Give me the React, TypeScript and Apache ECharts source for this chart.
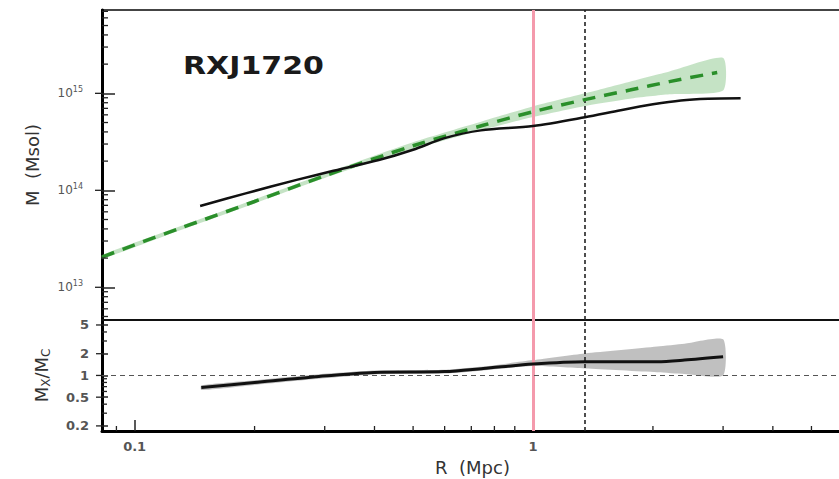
import React, { useEffect, useRef } from 'react';
import * as echarts from 'echarts';

const FONT = 'DejaVu Sans';

// axis ranges
const xMin = 0.0828;
const xMax = 6.0;
const topMin = 4.6e12;
const topMax = 7.23e15;
const botMin = 0.17;
const botMax = 5.86;

// tick values / labels
const xLabelTicks = [0.1, 1];
const xLabelText = ['0.1', '1'];
const xMinorTicks = [0.09, 0.2, 0.3, 0.4, 0.5, 0.6, 0.7, 0.8, 0.9, 2, 3, 4, 5];
const topLabelTicks = [1e13, 1e14, 1e15];
const topLabelExp = ['13', '14', '15'];
const topMinorTicks = [
  5e12, 6e12, 7e12, 8e12, 9e12,
  2e13, 3e13, 4e13, 5e13, 6e13, 7e13, 8e13, 9e13,
  2e14, 3e14, 4e14, 5e14, 6e14, 7e14, 8e14, 9e14,
  2e15, 3e15, 4e15, 5e15, 6e15, 7e15,
];
const ratioLabelTicks = [0.2, 0.5, 1, 2, 5];
const ratioLabelText = ['0.2', '0.5', '1', '2', '5'];
const ratioMinorTicks = [0.3, 0.4, 0.6, 0.7, 0.8, 0.9, 3, 4];

// reference radii
const rRed = 1.0;
const rDashed = 1.35;

// green dashed model profile
const greenR = [0.0828, 0.1, 0.13, 0.2, 0.3, 0.5, 0.75, 1.0, 1.35, 1.75, 2.2, 2.9];
const greenM = [2.05e13, 2.74e13, 4.06e13, 7.67e13, 1.41e14, 2.88e14, 4.68e14, 6.46e14, 8.61e14, 1.08e15, 1.32e15, 1.64e15];

// green uncertainty band
const bandR = [0.0828, 0.13, 0.2, 0.3, 0.5, 0.75, 1.0, 1.35, 1.75, 2.2, 3.0];
const bandLo = [1.96e13, 3.87e13, 7.33e13, 1.34e14, 2.66e14, 4.22e14, 5.69e14, 7.41e14, 8.81e14, 9.77e14, 1.07e15];
const bandHi = [2.15e13, 4.25e13, 8.04e13, 1.49e14, 3.13e14, 5.19e14, 7.33e14, 1.0e15, 1.32e15, 1.68e15, 2.32e15];

// black measured profile
const blackR = [0.146, 0.19, 0.255, 0.31, 0.41, 0.5, 0.6, 0.74, 1.0, 1.35, 1.66, 2.0, 2.35, 2.75, 3.32];
const blackM = [6.9e13, 9.3e13, 1.28e14, 1.56e14, 2.05e14, 2.62e14, 3.45e14, 4.15e14, 4.6e14, 5.66e14, 6.7e14, 7.7e14, 8.45e14, 8.8e14, 8.9e14];

// ratio panel
const ratioR = [0.147, 0.2, 0.29, 0.4, 0.6, 0.75, 1.0, 1.35, 2.05, 2.4, 3.0];
const ratioV = [0.68, 0.8, 0.97, 1.1, 1.13, 1.25, 1.44, 1.55, 1.55, 1.63, 1.81];
const ratioLo = [0.63, 0.74, 0.9, 1.03, 1.06, 1.17, 1.35, 1.25, 1.11, 1.05, 1.0];
const ratioHi = [0.73, 0.86, 1.04, 1.17, 1.2, 1.33, 1.63, 2.02, 2.52, 2.75, 3.16];

const sameVal = (a: number, b: number) => Math.abs(Math.log10(a) - Math.log10(b)) < 1e-6;

function bandSeries(xIdx: number, yIdx: number, R: number[], lo: number[], hi: number[], color: string) {
  return {
    type: 'custom',
    xAxisIndex: xIdx,
    yAxisIndex: yIdx,
    silent: true,
    z: 1,
    data: R.map((r, i) => [r, lo[i], hi[i]]),
    encode: { x: 0, y: [1, 2] },
    renderItem: (params: any, api: any) => {
      if (params.dataIndex !== 0) return null;
      const upper = R.map((r, i) => api.coord([r, hi[i]]));
      const lower = R.map((r, i) => api.coord([r, lo[i]])).reverse();
      return {
        type: 'polygon',
        shape: { points: upper.concat(lower), smooth: 0.2 },
        style: { fill: color },
      };
    },
  };
}

// y-axis tick marks (minor ticks and outward stubs) as thin rects through the axis scale
function yTickSeries(xIdx: number, yIdx: number, values: number[], len: number) {
  return {
    type: 'custom',
    xAxisIndex: xIdx,
    yAxisIndex: yIdx,
    silent: true,
    clip: false,
    z: 9,
    data: values.map((v) => [1, v]),
    encode: { x: 0, y: 1 },
    renderItem: (params: any, api: any) => {
      const py = api.coord([1, api.value(1)])[1];
      const x0 = params.coordSys.x;
      const left = len >= 0 ? x0 : x0 + len;
      return {
        type: 'rect',
        shape: { x: left, y: py - 0.65, width: Math.abs(len), height: 1.3 },
        style: { fill: '#222' },
      };
    },
  };
}

// x-axis minor tick marks
function xTickSeries(xIdx: number, yIdx: number, values: number[], anchor: number, len: number) {
  return {
    type: 'custom',
    xAxisIndex: xIdx,
    yAxisIndex: yIdx,
    silent: true,
    clip: false,
    z: 9,
    data: values.map((v) => [v, anchor]),
    encode: { x: 0, y: 1 },
    renderItem: (params: any, api: any) => {
      const p = api.coord([api.value(0), api.value(1)]);
      return {
        type: 'line',
        shape: { x1: p[0], y1: p[1], x2: p[0], y2: p[1] - len },
        style: { stroke: '#222', lineWidth: 1.3 },
      };
    },
  };
}

function markerSeries(xIdx: number, yIdx: number, withHorizontal: boolean) {
  const data: any[] = [
    { xAxis: rRed, lineStyle: { color: '#f49aac', width: 3, type: 'solid' } },
    { xAxis: rDashed, lineStyle: { color: '#222', width: 1.6, type: [4, 3] } },
  ];
  if (withHorizontal) data.push({ yAxis: 1, lineStyle: { color: '#555', width: 1.2, type: [5, 4] } });
  return {
    type: 'line',
    xAxisIndex: xIdx,
    yAxisIndex: yIdx,
    data: [],
    z: 3,
    markLine: {
      silent: true,
      symbol: ['none', 'none'],
      label: { show: false },
      animation: false,
      data,
    },
  };
}

export default function App() {
  const ref = useRef<HTMLDivElement>(null);

  useEffect(() => {
    document.body.style.margin = '0';
    if (!ref.current) return;
    const chart = echarts.init(ref.current, undefined, { renderer: 'svg' });

    const xBase0 = { gridIndex: 0, type: 'log', logBase: 10, min: xMin, max: xMax };
    const xBase1 = { gridIndex: 1, type: 'log', logBase: 10, min: xMin, max: xMax };
    const yBase0 = { gridIndex: 0, type: 'log', logBase: 10, min: topMin, max: topMax, position: 'left' };
    const yBase1 = { gridIndex: 1, type: 'log', logBase: 10, min: botMin, max: botMax, position: 'left' };

    const option: any = {
      animation: false,
      backgroundColor: '#ffffff',
      grid: [
        { left: 102, top: 10, width: 741, height: 310, outerBoundsMode: 'none', containLabel: false, show: true, borderColor: '#444', borderWidth: 2, backgroundColor: 'transparent' },
        { left: 102, top: 320, width: 741, height: 111, outerBoundsMode: 'none', containLabel: false, show: true, borderColor: '#111', borderWidth: 2, backgroundColor: 'transparent' },
      ],
      graphic: [
        {
          type: 'text',
          x: 183,
          y: 65,
          scaleX: 1.2,
          style: {
            text: 'RXJ1720',
            fontFamily: FONT,
            fontWeight: 'bold',
            fontSize: 25,
            fill: '#1a1a1a',
            verticalAlign: 'middle',
            align: 'left',
          },
        },
      ],
      xAxis: [
        {
          ...xBase0,
          axisLine: { show: true, onZero: false, lineStyle: { color: '#111', width: 2 } },
          axisTick: { show: false },
          axisLabel: { show: false },
          splitLine: { show: false },
        },
        {
          ...xBase1,
          name: 'R  (Mpc)',
          nameLocation: 'middle',
          nameGap: 27,
          nameTextStyle: { fontFamily: FONT, fontSize: 18, color: '#333' },
          axisLine: { show: true, onZero: false, lineStyle: { color: '#000', width: 3 } },
          axisTick: { show: true, inside: true, length: 11, customValues: xLabelTicks, lineStyle: { color: '#222', width: 1.5 } },
          axisLabel: {
            customValues: xLabelTicks,
            margin: 9,
            fontFamily: FONT,
            fontWeight: 'bold',
            fontSize: 13,
            color: '#555',
            formatter: (v: number) => {
              const i = xLabelTicks.findIndex((t) => sameVal(t, v));
              return i >= 0 ? xLabelText[i] : '';
            },
          },
          splitLine: { show: false },
        },
      ],
      yAxis: [
        {
          ...yBase0,
          name: 'M  (Msol)',
          nameLocation: 'middle',
          nameRotate: 90,
          nameGap: 61,
          nameTextStyle: { fontFamily: FONT, fontSize: 18, color: '#333' },
          axisLine: { show: true, onZero: false, lineStyle: { color: '#000', width: 3 } },
          axisTick: { show: true, inside: true, length: 13, customValues: topLabelTicks, lineStyle: { color: '#222', width: 1.5 } },
          axisLabel: {
            customValues: topLabelTicks,
            margin: 19,
            color: '#555',
            formatter: (v: number) => {
              const i = topLabelTicks.findIndex((t) => sameVal(t, v));
              return i >= 0 ? `{b|10}{s|${topLabelExp[i]}}` : '';
            },
            rich: {
              b: { fontFamily: FONT, fontSize: 12, lineHeight: 16, color: '#555' },
              s: { fontFamily: FONT, fontSize: 8, lineHeight: 8, verticalAlign: 'top', color: '#555' },
            },
          },
          splitLine: { show: false },
        },
        {
          ...yBase1,
          name: '{m|M}{s|X}{m|/M}{s|C}',
          nameLocation: 'middle',
          nameRotate: 90,
          nameGap: 50,
          nameTextStyle: {
            color: '#333',
            rich: {
              m: { fontFamily: FONT, fontSize: 18, lineHeight: 22, color: '#333' },
              s: { fontFamily: FONT, fontSize: 12, lineHeight: 12, verticalAlign: 'bottom', color: '#333' },
            },
          },
          axisLine: { show: true, onZero: false, lineStyle: { color: '#000', width: 3 } },
          axisTick: { show: true, inside: true, length: 6, customValues: ratioLabelTicks, lineStyle: { color: '#222', width: 1.5 } },
          axisLabel: {
            customValues: ratioLabelTicks,
            margin: 13,
            fontFamily: FONT,
            fontWeight: 'bold',
            fontSize: 13,
            color: '#555',
            formatter: (v: number) => {
              const i = ratioLabelTicks.findIndex((t) => sameVal(t, v));
              return i >= 0 ? ratioLabelText[i] : '';
            },
          },
          splitLine: { show: false },
        },
      ],
      series: [
        markerSeries(0, 0, false),
        bandSeries(0, 0, bandR, bandLo, bandHi, 'rgba(140,200,140,0.5)'),
        {
          type: 'line',
          xAxisIndex: 0,
          yAxisIndex: 0,
          data: greenR.map((r, i) => [r, greenM[i]]),
          symbol: 'none',
          smooth: 0.3,
          z: 7,
          lineStyle: { color: '#2a8f2a', width: 3.5, type: [13, 9] },
        },
        {
          type: 'line',
          xAxisIndex: 0,
          yAxisIndex: 0,
          data: blackR.map((r, i) => [r, blackM[i]]),
          symbol: 'none',
          smooth: 0.3,
          z: 8,
          lineStyle: { color: '#111', width: 2.5 },
        },
        yTickSeries(0, 0, topMinorTicks, 6),
        yTickSeries(0, 0, topLabelTicks, -7),
        markerSeries(1, 1, true),
        bandSeries(1, 1, ratioR, ratioLo, ratioHi, 'rgba(150,150,150,0.6)'),
        {
          type: 'line',
          xAxisIndex: 1,
          yAxisIndex: 1,
          data: ratioR.map((r, i) => [r, ratioV[i]]),
          symbol: 'none',
          smooth: 0.3,
          z: 8,
          lineStyle: { color: '#111', width: 3 },
        },
        yTickSeries(1, 1, ratioMinorTicks, 5),
        yTickSeries(1, 1, ratioLabelTicks, -6),
        xTickSeries(1, 1, xMinorTicks, botMin, 5),
      ],
    };

    chart.setOption(option);
    return () => {
      chart.dispose();
    };
  }, []);

  return <div ref={ref} style={{ width: 839, height: 479 }} />;
}
